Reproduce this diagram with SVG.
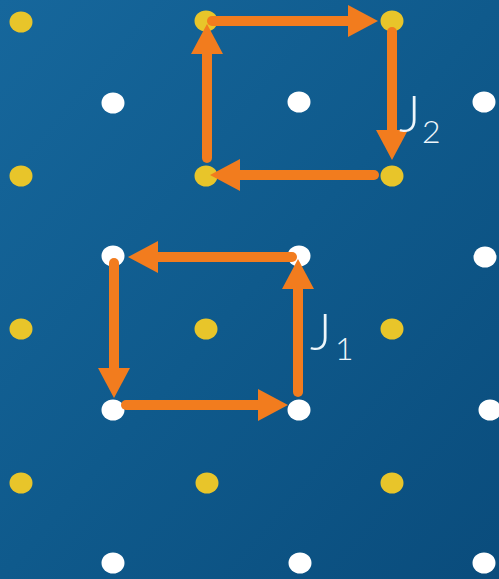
<svg xmlns="http://www.w3.org/2000/svg" width="499" height="579" viewBox="0 0 499 579">
  <defs>
    <linearGradient id="bg" x1="0" y1="0" x2="1" y2="1">
      <stop offset="0" stop-color="#16679c"/>
      <stop offset="0.5" stop-color="#0f5a8c"/>
      <stop offset="1" stop-color="#0a4c7c"/>
    </linearGradient>
    <marker id="head" viewBox="0 0 30 32" markerWidth="30" markerHeight="32" refX="0" refY="16" orient="auto" markerUnits="userSpaceOnUse">
      <path d="M0,0 L30,16 L0,32 z" fill="#f27c1e"/>
    </marker>
  </defs>
  <style>
    .y { fill: #e8c52a; }
    .w { fill: #ffffff; }
    .arr { stroke: #f27c1e; stroke-width: 10; stroke-linecap: round; fill: none; marker-end: url(#head); }
    .lbl { font-family: Lato, "Open Sans", sans-serif; font-weight: 300; fill: #eef6fb; }
  </style>
  <rect x="0" y="0" width="499" height="579" fill="url(#bg)"/>

  <g id="dots">
    <g id="y1"><ellipse class="y" cx="21" cy="22" rx="11.5" ry="10.5"/></g>
    <g id="y2"><ellipse class="y" cx="206" cy="21" rx="11.5" ry="10.5"/></g>
    <g id="y3"><ellipse class="y" cx="392" cy="21" rx="11.5" ry="10.5"/></g>
    <g id="y4"><ellipse class="y" cx="21" cy="176" rx="11.5" ry="10.5"/></g>
    <g id="y5"><ellipse class="y" cx="206" cy="176" rx="11.5" ry="10.5"/></g>
    <g id="y6"><ellipse class="y" cx="392" cy="176" rx="11.5" ry="10.5"/></g>
    <g id="y7"><ellipse class="y" cx="21" cy="329" rx="11.5" ry="10.5"/></g>
    <g id="y8"><ellipse class="y" cx="206" cy="329" rx="11.5" ry="10.5"/></g>
    <g id="y9"><ellipse class="y" cx="392" cy="329" rx="11.5" ry="10.5"/></g>
    <g id="y10"><ellipse class="y" cx="21" cy="483" rx="11.5" ry="10.5"/></g>
    <g id="y11"><ellipse class="y" cx="207" cy="483" rx="11.5" ry="10.5"/></g>
    <g id="y12"><ellipse class="y" cx="392" cy="483" rx="11.5" ry="10.5"/></g>

    <g id="w1"><ellipse class="w" cx="113" cy="103" rx="11.5" ry="10.5"/></g>
    <g id="w2"><ellipse class="w" cx="299" cy="102" rx="11.5" ry="10.5"/></g>
    <g id="w3"><ellipse class="w" cx="484" cy="102" rx="11.5" ry="10.5"/></g>
    <g id="w4"><ellipse class="w" cx="113" cy="256" rx="11.5" ry="10.5"/></g>
    <g id="w5"><ellipse class="w" cx="299" cy="256" rx="11.5" ry="10.5"/></g>
    <g id="w6"><ellipse class="w" cx="485" cy="257" rx="11.5" ry="10.5"/></g>
    <g id="w7"><ellipse class="w" cx="113" cy="410" rx="11.5" ry="10.5"/></g>
    <g id="w8"><ellipse class="w" cx="299" cy="410" rx="11.5" ry="10.5"/></g>
    <g id="w9"><ellipse class="w" cx="490" cy="410" rx="11.5" ry="10.5"/></g>
    <g id="w10"><ellipse class="w" cx="113" cy="563" rx="11.5" ry="10.5"/></g>
    <g id="w11"><ellipse class="w" cx="300" cy="563" rx="11.5" ry="10.5"/></g>
    <g id="w12"><ellipse class="w" cx="484" cy="563" rx="11.5" ry="10.5"/></g>
  </g>

  <g id="connectors">
    <!-- J2 loop -->
    <path class="arr" d="M212,21 L348,21"/>
    <path class="arr" d="M392,32 L392,130"/>
    <path class="arr" d="M374,175 L240,175"/>
    <path class="arr" d="M207,158 L207,54"/>
    <!-- J1 loop -->
    <path class="arr" d="M292,257 L158,257"/>
    <path class="arr" d="M114,263 L114,368"/>
    <path class="arr" d="M126,405 L258,405"/>
    <path class="arr" d="M298,392 L298,289"/>
  </g>

  <g id="label-J2">
    <text class="lbl" x="399" y="132" font-size="52">J</text>
    <text class="lbl" x="422" y="143" font-size="32">2</text>
  </g>
  <g id="label-J1">
    <text class="lbl" x="310" y="350" font-size="52">J</text>
    <text class="lbl" x="335" y="360" font-size="32">1</text>
  </g>
</svg>
